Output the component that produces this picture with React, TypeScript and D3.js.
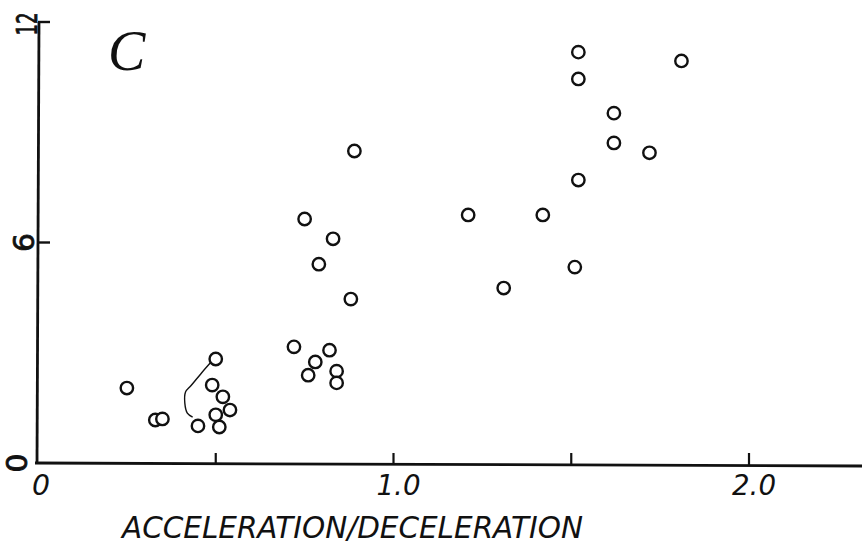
import React from "react";
import * as d3 from "d3";

const xValues = [0.25, 0.33, 0.35, 0.45, 0.5, 0.49, 0.52, 0.54, 0.5, 0.51, 0.72, 0.76, 0.78, 0.82, 0.84, 0.84, 0.75, 0.83, 0.79, 0.88, 0.89, 1.21, 1.31, 1.42, 1.51, 1.52, 1.52, 1.52, 1.62, 1.62, 1.72, 1.81];
const yValues = [2.04, 1.17, 1.2, 1.01, 2.83, 2.12, 1.8, 1.44, 1.31, 0.98, 3.16, 2.39, 2.75, 3.07, 2.5, 2.18, 6.64, 6.1, 5.41, 4.46, 8.49, 6.75, 4.76, 6.75, 5.33, 11.18, 10.45, 7.7, 9.52, 8.71, 8.44, 10.94];
const xTicks = [0.5, 1.0, 1.5, 2.0];
const xTickLabels = [{ v: 0, t: "0" }, { v: 1.0, t: "1.0" }, { v: 2.0, t: "2.0" }];
const yTicks = [6, 12];
const yTickLabels = [{ v: 0, t: "0" }, { v: 6, t: "6" }, { v: 12, t: "12" }];
const bracketX = [0.49, 0.46, 0.43, 0.415, 0.413, 0.42, 0.435];
const bracketY = [2.78, 2.45, 2.1, 1.93, 1.63, 1.36, 1.25];
const panelLabel = "C";
const xTitle = "ACCELERATION/DECELERATION";

export default function App() {
  const W = 862, H = 550;
  const x = d3.scaleLinear().domain([0, 2]).range([38, 749]);
  const y = d3.scaleLinear().domain([0, 12]).range([463, 22]);
  const pts = xValues.map((v, i) => [v, yValues[i]] as [number, number]);
  const bracket = d3
    .line<[number, number]>()
    .x((d) => x(d[0]))
    .y((d) => y(d[1]))
    .curve(d3.curveCatmullRom)(bracketX.map((v, i) => [v, bracketY[i]] as [number, number]));
  const ink = "#111";
  const font = "'DejaVu Sans', sans-serif";
  const yLabelX = (v: number) => (v === 0 ? 27 : v === 6 ? 34 : 37);
  return (
    <svg width={W} height={H} style={{ position: "absolute", left: 0, top: 0, background: "#fff" }}>
      {/* axes */}
      <line x1={x(0) + 1} y1={y(12)} x2={x(0) - 1} y2={y(0)} stroke={ink} strokeWidth={2.8} />
      <line x1={x(0) - 3} y1={y(0)} x2={W} y2={y(0) + 3} stroke={ink} strokeWidth={2.8} />
      {yTicks.map((t) => (
        <line key={"yt" + t} x1={x(0)} x2={x(0) + 12} y1={y(t)} y2={y(t)} stroke={ink} strokeWidth={2.4} />
      ))}
      {xTicks.map((t) => (
        <line key={"xt" + t} x1={x(t)} x2={x(t)} y1={y(0) + (x(t) - 38) * 0.0035} y2={y(0) - 10} stroke={ink} strokeWidth={2.2} />
      ))}
      {/* tick labels */}
      {xTickLabels.map((d) => (
        <text
          key={"xl" + d.v}
          x={x(d.v) + (d.v === 0 ? 3 : 5)}
          y={y(0) + 32}
          textAnchor="middle"
          fontFamily={font}
          fontStyle="italic"
          fontSize={29}
          fill={ink}
          textLength={d.t.length === 1 ? 18 : 44}
          lengthAdjust="spacingAndGlyphs"
        >
          {d.t}
        </text>
      ))}
      {yTickLabels.map((d) => (
        <text
          key={"yl" + d.v}
          transform={`translate(${yLabelX(d.v)},${y(d.v) + (d.v === 12 ? 2 : 0)}) rotate(-90)`}
          textAnchor="middle"
          fontFamily={font}
          fontSize={28}
          fill={ink}
          stroke={ink}
          strokeWidth={0.8}
          textLength={d.t.length === 1 ? 19 : 23}
          lengthAdjust="spacingAndGlyphs"
        >
          {d.t}
        </text>
      ))}
      {/* panel label */}
      <text x={108} y={70} fontFamily="'Liberation Serif', serif" fontStyle="italic" fontSize={56} fill={ink}>
        {panelLabel}
      </text>
      {/* x title */}
      <text
        x={122}
        y={538}
        fontFamily={font}
        fontStyle="italic"
        fontSize={31}
        fill={ink}
        textLength={461}
        lengthAdjust="spacingAndGlyphs"
      >
        {xTitle}
      </text>
      {/* bracket */}
      <path d={bracket || ""} fill="none" stroke={ink} strokeWidth={1.4} />
      {/* points */}
      {pts.map((p, i) => (
        <circle key={i} cx={x(p[0])} cy={y(p[1])} r={6.2} fill="#fff" stroke={ink} strokeWidth={2.4} />
      ))}
    </svg>
  );
}
